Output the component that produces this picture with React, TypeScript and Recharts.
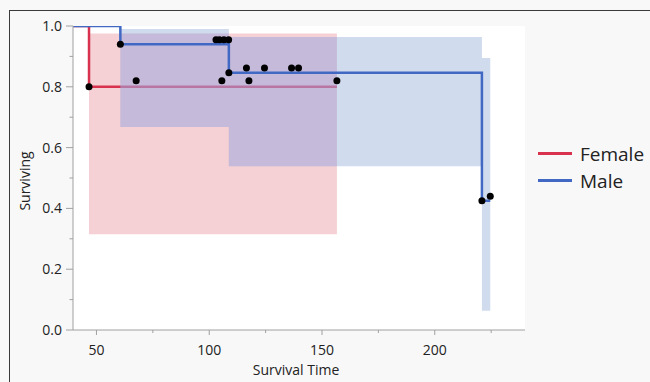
import React from 'react';
import {
  ComposedChart,
  Area,
  Line,
  Scatter,
  XAxis,
  YAxis,
  CartesianGrid,
  Legend,
  Label,
} from 'recharts';

// Kaplan-Meier step points
const femaleTimes = [39.6, 46.7, 156.6];
const femaleSurv = [1, 0.8, 0.8];
const maleTimes = [39.6, 60.6, 108.7, 220.9, 224.6];
const maleSurv = [1, 0.94, 0.846, 0.425, 0.425];

// confidence bands
const femaleBandTimes = [46.7, 156.6];
const femaleLower = [0.315, 0.315];
const femaleUpper = [0.975, 0.975];
const maleBandTimes = [60.6, 108.7, 220.9, 224.6];
const maleLower = [0.668, 0.539, 0.063, 0.063];
const maleUpper = [0.99, 0.964, 0.895, 0.895];

// markers
const femaleMarkT = [46.7, 67.6, 105.6, 117.6, 156.6];
const femaleMarkS = [0.8, 0.82, 0.82, 0.82, 0.82];
const maleMarkT = [60.6, 103, 104.5, 106.5, 108.6, 108.7, 116.5, 124.5, 136.5, 139.6, 220.9, 224.6];
const maleMarkS = [0.94, 0.955, 0.955, 0.955, 0.955, 0.846, 0.862, 0.862, 0.862, 0.862, 0.425, 0.44];

const xMajor = [50, 100, 150, 200];
const xMinor = [75, 125, 175, 225];
const yMajor = [0, 0.2, 0.4, 0.6, 0.8, 1.0];
const yMinor = [0.1, 0.3, 0.5, 0.7, 0.9];

const legendNames = ['Female', 'Male'];

const RED = '#d8324f';
const BLUE = '#4169c4';
const AXIS = '#a0a0a0';
const FONT = '"Open Sans", "Noto Sans", sans-serif';

const steps = (t: number[], s: number[]) => t.map((v, i) => ({ t: v, s: s[i] }));
const band = (t: number[], lo: number[], hi: number[]) => t.map((v, i) => ({ t: v, band: [lo[i], hi[i]] }));

const femaleLine = steps(femaleTimes, femaleSurv);
const maleLine = steps(maleTimes, maleSurv);
const femaleBand = band(femaleBandTimes, femaleLower, femaleUpper);
const maleBand = band(maleBandTimes, maleLower, maleUpper);
const marks = [...steps(femaleMarkT, femaleMarkS), ...steps(maleMarkT, maleMarkS)];

// where the two bands overlap (gets its own tint, like the original)
const stepIndex = (times: number[], t: number) => {
  let k = 0;
  for (let i = 0; i < times.length - 1; i++) if (times[i] <= t) k = i;
  return k;
};
const overlapBand = (() => {
  const start = Math.max(femaleBandTimes[0], maleBandTimes[0]);
  const end = Math.min(femaleBandTimes[femaleBandTimes.length - 1], maleBandTimes[maleBandTimes.length - 1]);
  const ts = Array.from(new Set([...femaleBandTimes, ...maleBandTimes, start, end]))
    .filter((t) => t >= start && t <= end)
    .sort((a, b) => a - b);
  return ts.map((t, j) => {
    const tt = j === ts.length - 1 ? ts[j - 1] : t;
    const fi = stepIndex(femaleBandTimes, tt);
    const mi = stepIndex(maleBandTimes, tt);
    return {
      t,
      band: [Math.max(femaleLower[fi], maleLower[mi]), Math.min(femaleUpper[fi], maleUpper[mi])],
    };
  });
})();

const isIn = (arr: number[], v: number) => arr.some((a) => Math.abs(a - v) < 1e-6);

const YTick = ({ x, y, payload }: any) => {
  const major = isIn(yMajor, payload.value);
  return (
    <g>
      <line x1={x - (major ? 7 : 3.5)} x2={x} y1={y} y2={y} stroke={AXIS} />
      {major && (
        <text x={x - 11} y={y} dy={5} textAnchor="end" fontSize={14} fill="#222" fontFamily={FONT}>
          {payload.value.toFixed(1)}
        </text>
      )}
    </g>
  );
};

const XTick = ({ x, y, payload }: any) => {
  const major = isIn(xMajor, payload.value);
  return (
    <g>
      <line x1={x} x2={x} y1={y} y2={y + (major ? 5 : 3)} stroke={AXIS} />
      {major && (
        <text x={x} y={y + 25} textAnchor="middle" fontSize={14} fill="#222" fontFamily={FONT}>
          {payload.value}
        </text>
      )}
    </g>
  );
};

const LegendBox = () => (
  <div style={{ fontFamily: FONT, fontSize: 19, color: '#222' }}>
    {legendNames.map((name, i) => (
      <div key={name} style={{ display: 'flex', alignItems: 'center', height: 27 }}>
        <div style={{ width: 34, height: 3, background: i === 0 ? RED : BLUE, marginRight: 8 }} />
        <span>{name}</span>
      </div>
    ))}
  </div>
);

export default function App() {
  return (
    <div
      style={{
        position: 'absolute',
        left: 0,
        top: 0,
        width: 650,
        height: 382,
        background: '#f8f8f8',
        overflow: 'hidden',
      }}
    >
      <div
        style={{
          position: 'absolute',
          left: 9,
          top: 10,
          right: 0,
          bottom: 0,
          borderLeft: '1.5px solid #3a3a3a',
          borderTop: '1.5px solid #3a3a3a',
        }}
      />
      <div style={{ position: 'absolute', left: 0, top: 0 }}>
        <ComposedChart width={650} height={382} margin={{ top: 26, right: 125, left: 0, bottom: 0 }}>
          <CartesianGrid fill="#ffffff" horizontal={false} vertical={false} />
          <XAxis
            xAxisId={0}
            dataKey="t"
            type="number"
            domain={[39.6, 240]}
            ticks={[...xMajor, ...xMinor].sort((a, b) => a - b)}
            tick={<XTick />}
            tickLine={false}
            tickSize={0}
            tickMargin={0}
            height={52}
            axisLine={{ stroke: AXIS }}
            allowDataOverflow
          >
            <Label
              content={({ viewBox }: any) => (
                <text
                  x={viewBox.x + viewBox.width / 2 - 3}
                  y={viewBox.y + 45}
                  textAnchor="middle"
                  fontSize={14}
                  fill="#222"
                  fontFamily={FONT}
                >
                  Survival Time
                </text>
              )}
            />
          </XAxis>
          <XAxis xAxisId="top" orientation="top" type="number" domain={[0, 1]} height={0} tick={false} tickLine={false} axisLine={{ stroke: '#c4c4c4' }} />
          <YAxis
            yAxisId={0}
            type="number"
            domain={[0, 1]}
            ticks={[...yMajor, ...yMinor].sort((a, b) => a - b)}
            tick={<YTick />}
            tickLine={false}
            tickSize={0}
            tickMargin={0}
            width={73}
            axisLine={{ stroke: AXIS }}
            allowDataOverflow
          >
            <Label
              content={({ viewBox }: any) => {
                const cx = viewBox.x + 24;
                const cy = viewBox.y + viewBox.height / 2 + 3;
                return (
                  <text
                    x={cx}
                    y={cy}
                    transform={`rotate(-90, ${cx}, ${cy})`}
                    textAnchor="middle"
                    dominantBaseline="central"
                    fontSize={14}
                    fill="#222"
                    fontFamily={FONT}
                  >
                    Surviving
                  </text>
                );
              }}
            />
          </YAxis>
          <YAxis yAxisId="right" orientation="right" type="number" domain={[0, 1]} width={0} tick={false} tickLine={false} axisLine={{ stroke: '#c4c4c4' }} />

          <Area
            data={femaleBand}
            dataKey="band"
            type="stepAfter"
            stroke="none"
            fill="#de6270"
            fillOpacity={0.3}
            isAnimationActive={false}
            zIndex={100}
          />
          <Line
            data={femaleLine}
            dataKey="s"
            type="stepAfter"
            stroke={RED}
            strokeWidth={2.5}
            dot={false}
            isAnimationActive={false}
            zIndex={101}
          />
          <Area
            data={maleBand}
            dataKey="band"
            type="stepAfter"
            stroke="none"
            fill="#8aa7d5"
            fillOpacity={0.4}
            isAnimationActive={false}
            zIndex={102}
          />
          <Area
            data={overlapBand}
            dataKey="band"
            type="stepAfter"
            stroke="none"
            fill="#b9ade8"
            fillOpacity={0.3}
            isAnimationActive={false}
            zIndex={103}
          />
          <Line
            data={maleLine}
            dataKey="s"
            type="stepAfter"
            stroke={BLUE}
            strokeWidth={2.5}
            dot={false}
            isAnimationActive={false}
            zIndex={104}
          />
          <Scatter
            data={marks}
            dataKey="s"
            fill="#000"
            shape={(p: any) => <circle cx={p.cx} cy={p.cy} r={3.5} fill="#000" />}
            isAnimationActive={false}
            zIndex={105}
          />
          <Legend
            layout="vertical"
            align="center"
            verticalAlign="middle"
            wrapperStyle={{ left: 538, top: 140, width: 110 }}
            content={() => <LegendBox />}
          />
        </ComposedChart>
      </div>
    </div>
  );
}
